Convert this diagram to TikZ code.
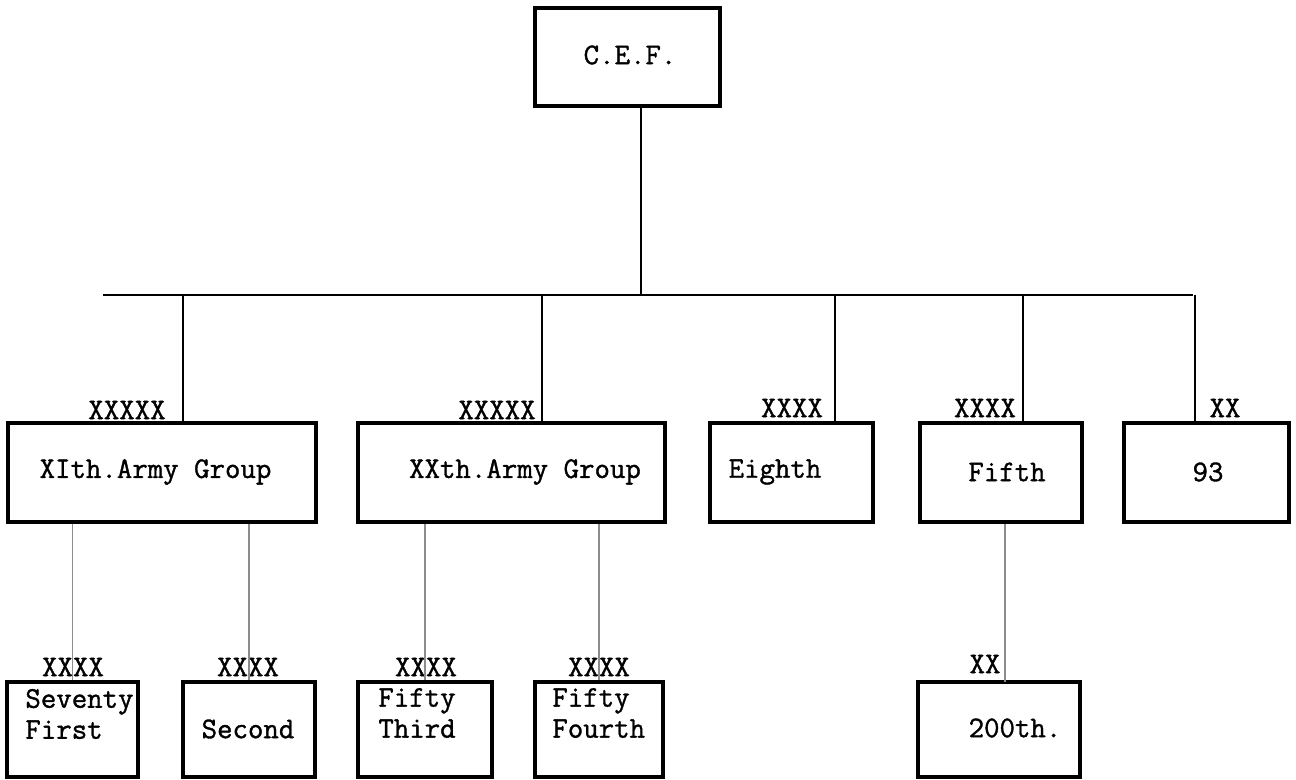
\documentclass[tikz,border=0pt]{standalone}
\usepackage{fontspec}
\newfontfamily\tw[FakeBold=1.2]{Latin Modern Mono}
\begin{document}
\begin{tikzpicture}[x=0.5pt,y=-0.5pt,
  box/.style={draw=black, line width=1.6pt, inner sep=0pt, minimum height=49.5pt},
  lowbox/.style={draw=black, line width=1.6pt, inner sep=0pt, minimum height=47.5pt},
  txt/.style={font=\tw\fontsize{15}{15.5}\selectfont, inner sep=0pt, text=black},
  link/.style={draw=black, line width=1.4pt},
  thin/.style={draw=black!45, line width=0.9pt}]
\useasboundingbox (0,0) rectangle (1296,780);
% boxes
\node[box, minimum width=92.5pt, minimum height=49pt] (cef) at (627.5,57) {};
\node[box, minimum width=154pt] (g1) at (162,472.5) {};
\node[box, minimum width=153.5pt] (g2) at (511.5,472.5) {};
\node[box, minimum width=81.5pt] (a8) at (791.5,472.5) {};
\node[box, minimum width=81pt] (a5) at (1001,472.5) {};
\node[box, minimum width=82.5pt] (d93) at (1206.5,472.5) {};
\node[lowbox, minimum width=65.5pt] (s71) at (72.5,729.5) {};
\node[lowbox, minimum width=66pt] (s2) at (249,729.5) {};
\node[lowbox, minimum width=67pt] (f53) at (425,729.5) {};
\node[lowbox, minimum width=64pt] (f54) at (599,729.5) {};
\node[lowbox, minimum width=81pt] (d200) at (999,729.5) {};
% texts
\node[txt] (tcef) at (630,55) {C.E.F.};
\node[txt] (tg1) at (155.5,472) {XIth.Army Group};
\node[txt] (tg2) at (525,472) {XXth.Army Group};
\node[txt] (ta8) at (775,472) {Eighth};
\node[txt] (ta5) at (1007,472) {Fifth};
\node[txt] (td93) at (1208,472) {93};
\node[txt, align=left, anchor=west] (ts71) at (25,714) {Seventy\\First};
\node[txt] (ts2) at (248,729) {Second};
\node[txt, align=left, anchor=west] (tf53) at (378,713) {Fifty\\Third};
\node[txt, align=left, anchor=west] (tf54) at (552,713) {Fifty\\Fourth};
\node[txt] (td200) at (1015,728) {200th.};
% rank labels
\node[txt] (l1) at (127,410) {XXXXX};
\node[txt] (l2) at (497,410) {XXXXX};
\node[txt] (l3) at (792,408) {XXXX};
\node[txt] (l4) at (985,408) {XXXX};
\node[txt] (l5) at (1225,408) {XX};
\node[txt] (m1) at (73,667) {XXXX};
\node[txt] (m2) at (248,667) {XXXX};
\node[txt] (m3) at (426,667) {XXXX};
\node[txt] (m4) at (599,667) {XXXX};
\node[txt] (m5) at (985,664) {XX};
% bar and drops
\coordinate (barL) at (103,295);
\coordinate (barR) at (1193,295);
\coordinate (c0) at (641,295);
\coordinate (t1) at (183,295);
\coordinate (t2) at (542,295);
\coordinate (t3) at (835,295);
\coordinate (t4) at (1023,295);
\coordinate (t5) at (1195,295);
\draw[link] (barL) -- (barR);
\draw[link] (c0 |- cef.south) -- (c0);
\draw[link] (t1) -- (t1 |- g1.north);
\draw[link] (t2) -- (t2 |- g2.north);
\draw[link] (t3) -- (t3 |- a8.north);
\draw[link] (t4) -- (t4 |- a5.north);
\draw[link] (t5) -- (t5 |- d93.north);
% lower drops
\draw[thin] (s71.north) -- (s71.north |- g1.south);
\draw[thin] (s2.north) -- (s2.north |- g1.south);
\draw[thin] (f53.north) -- (f53.north |- g2.south);
\draw[thin] (f54.north) -- (f54.north |- g2.south);
\coordinate (u5) at (1005,682);
\draw[thin] (u5) -- (u5 |- a5.south);
\end{tikzpicture}
\end{document}
